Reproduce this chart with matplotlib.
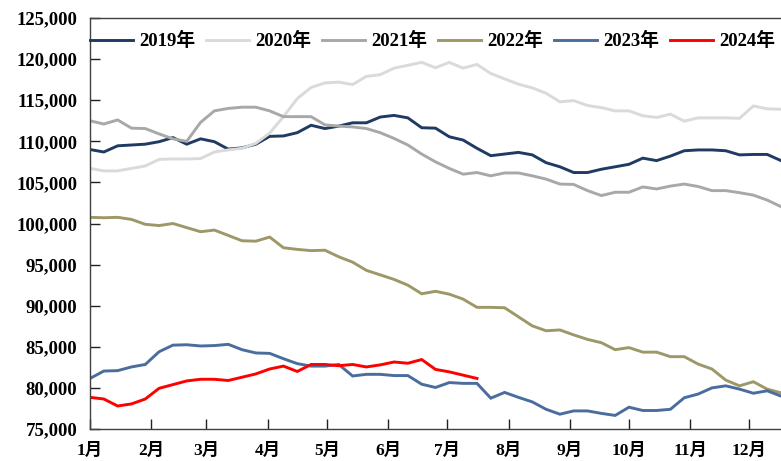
import matplotlib
matplotlib.use("Agg")
import matplotlib.pyplot as plt
import numpy as np
from matplotlib.ticker import FuncFormatter

plt.rcParams['font.family'] = ['Liberation Serif', 'Noto Sans CJK SC', 'DejaVu Sans']
plt.rcParams['font.weight'] = 'bold'

month_labels = ['1月', '2月', '3月', '4月', '5月', '6月', '7月', '8月', '9月', '10月', '11月', '12月']
month_days = [0, 31, 59, 90, 120, 151, 181, 212, 243, 273, 304, 334]

y2019 = [109000, 108700, 109450, 109550, 109650, 109950, 110450, 109650, 110300, 109950,
         109050, 109200, 109650, 110600, 110650, 111050, 111950, 111550, 111850, 112250,
         112250, 112950, 113150, 112850, 111650, 111600, 110550, 110150, 109150, 108250,
         108450, 108650, 108350, 107400, 106900, 106200, 106200, 106600, 106900, 107200,
         107950, 107650, 108200, 108850, 108950, 108950, 108850, 108350, 108400, 108400,
         107650]
y2020 = [106700, 106400, 106400, 106700, 107000, 107800, 107850, 107850, 107900, 108700,
         108950, 109150, 109750, 111000, 113000, 115200, 116550, 117100, 117200, 116900,
         117900, 118100, 118900, 119250, 119600, 118950, 119600, 118900, 119350, 118250,
         117600, 116950, 116500, 115850, 114800, 114950, 114350, 114100, 113700, 113700,
         113100, 112900, 113300, 112450, 112850, 112850, 112850, 112800, 114300, 113950,
         113900]
y2021 = [112500, 112100, 112600, 111600, 111550, 110900, 110300, 110000, 112300, 113700,
         114000, 114150, 114150, 113700, 113000, 113000, 113000, 112000, 111850, 111750,
         111550, 111050, 110350, 109550, 108450, 107500, 106700, 106000, 106200, 105800,
         106150, 106150, 105800, 105400, 104800, 104750, 104000, 103400, 103800, 103800,
         104450, 104200, 104550, 104800, 104500, 104000, 104000, 103750, 103450, 102850,
         102050]
y2022 = [100750, 100700, 100750, 100500, 99900, 99750, 100000, 99500, 99000, 99200,
         98550, 97900, 97850, 98350, 97050, 96850, 96700, 96750, 95950, 95300,
         94300, 93750, 93200, 92500, 91450, 91750, 91400, 90800, 89800, 89800,
         89750, 88650, 87550, 86950, 87050, 86450, 85900, 85500, 84650, 84900,
         84350, 84350, 83800, 83800, 82900, 82300, 80950, 80250, 80750, 79850,
         79400]
y2023 = [81150, 82050, 82100, 82550, 82850, 84400, 85200, 85250, 85100, 85150,
         85300, 84650, 84250, 84200, 83550, 82950, 82650, 82650, 82850, 81450,
         81650, 81650, 81500, 81500, 80450, 80050, 80650, 80550, 80550, 78750,
         79450, 78850, 78300, 77400, 76800, 77200, 77200, 76900, 76650, 77650,
         77250, 77250, 77400, 78800, 79250, 80000, 80250, 79850, 79350, 79650,
         79000]
y2024 = [78850, 78650, 77800, 78050, 78650, 79950, 80400, 80850, 81050, 81050,
         80900, 81300, 81700, 82300, 82650, 82000, 82850, 82850, 82700, 82850,
         82550, 82800, 83150, 83000, 83450, 82250, 81950, 81550, 81150]

series = [
    ('2019年', y2019, '#1F3A63'),
    ('2020年', y2020, '#DADADA'),
    ('2021年', y2021, '#A8A8A8'),
    ('2022年', y2022, '#9E9768'),
    ('2023年', y2023, '#4A6D9E'),
    ('2024年', y2024, '#FF0000'),
]

fig = plt.figure(figsize=(7.81, 4.61), dpi=100)
ax = fig.add_axes([90/781, 32/461, 1 - 90/781, 411/461])

for name, vals, col in series:
    days = np.arange(len(vals)) * 7
    ax.plot(days, vals, color=col, lw=2.1, label=name, solid_joinstyle='miter')

ax.set_xlim(0, 350)
ax.set_ylim(75000, 125000)
ax.set_xticks(month_days)
ax.set_xticklabels(month_labels)
ax.set_yticks(np.arange(75000, 125001, 5000))
ax.yaxis.set_major_formatter(FuncFormatter(lambda v, p: f'{int(v):,}'))

ax.tick_params(axis='y', direction='in', length=7, width=1, pad=9, labelsize=13.5, colors='#222222')
ax.tick_params(axis='x', direction='in', length=7, width=1, pad=10, labelsize=12.5, colors='#222222')
for lab in ax.get_xticklabels() + ax.get_yticklabels():
    lab.set_fontweight('bold')
    lab.set_color('black')

for s in ['left', 'bottom', 'top']:
    ax.spines[s].set_color('#404040')
    ax.spines[s].set_linewidth(1.0)
ax.spines['right'].set_visible(False)

leg = ax.legend(loc='upper left', bbox_to_anchor=(0.0, 0.966), ncol=6, frameon=False,
                prop={'size': 13.5, 'weight': 'bold'}, handlelength=2.3,
                handletextpad=0.3, columnspacing=0.6, borderaxespad=0, borderpad=0)

fig.savefig('out.png', dpi=100)
